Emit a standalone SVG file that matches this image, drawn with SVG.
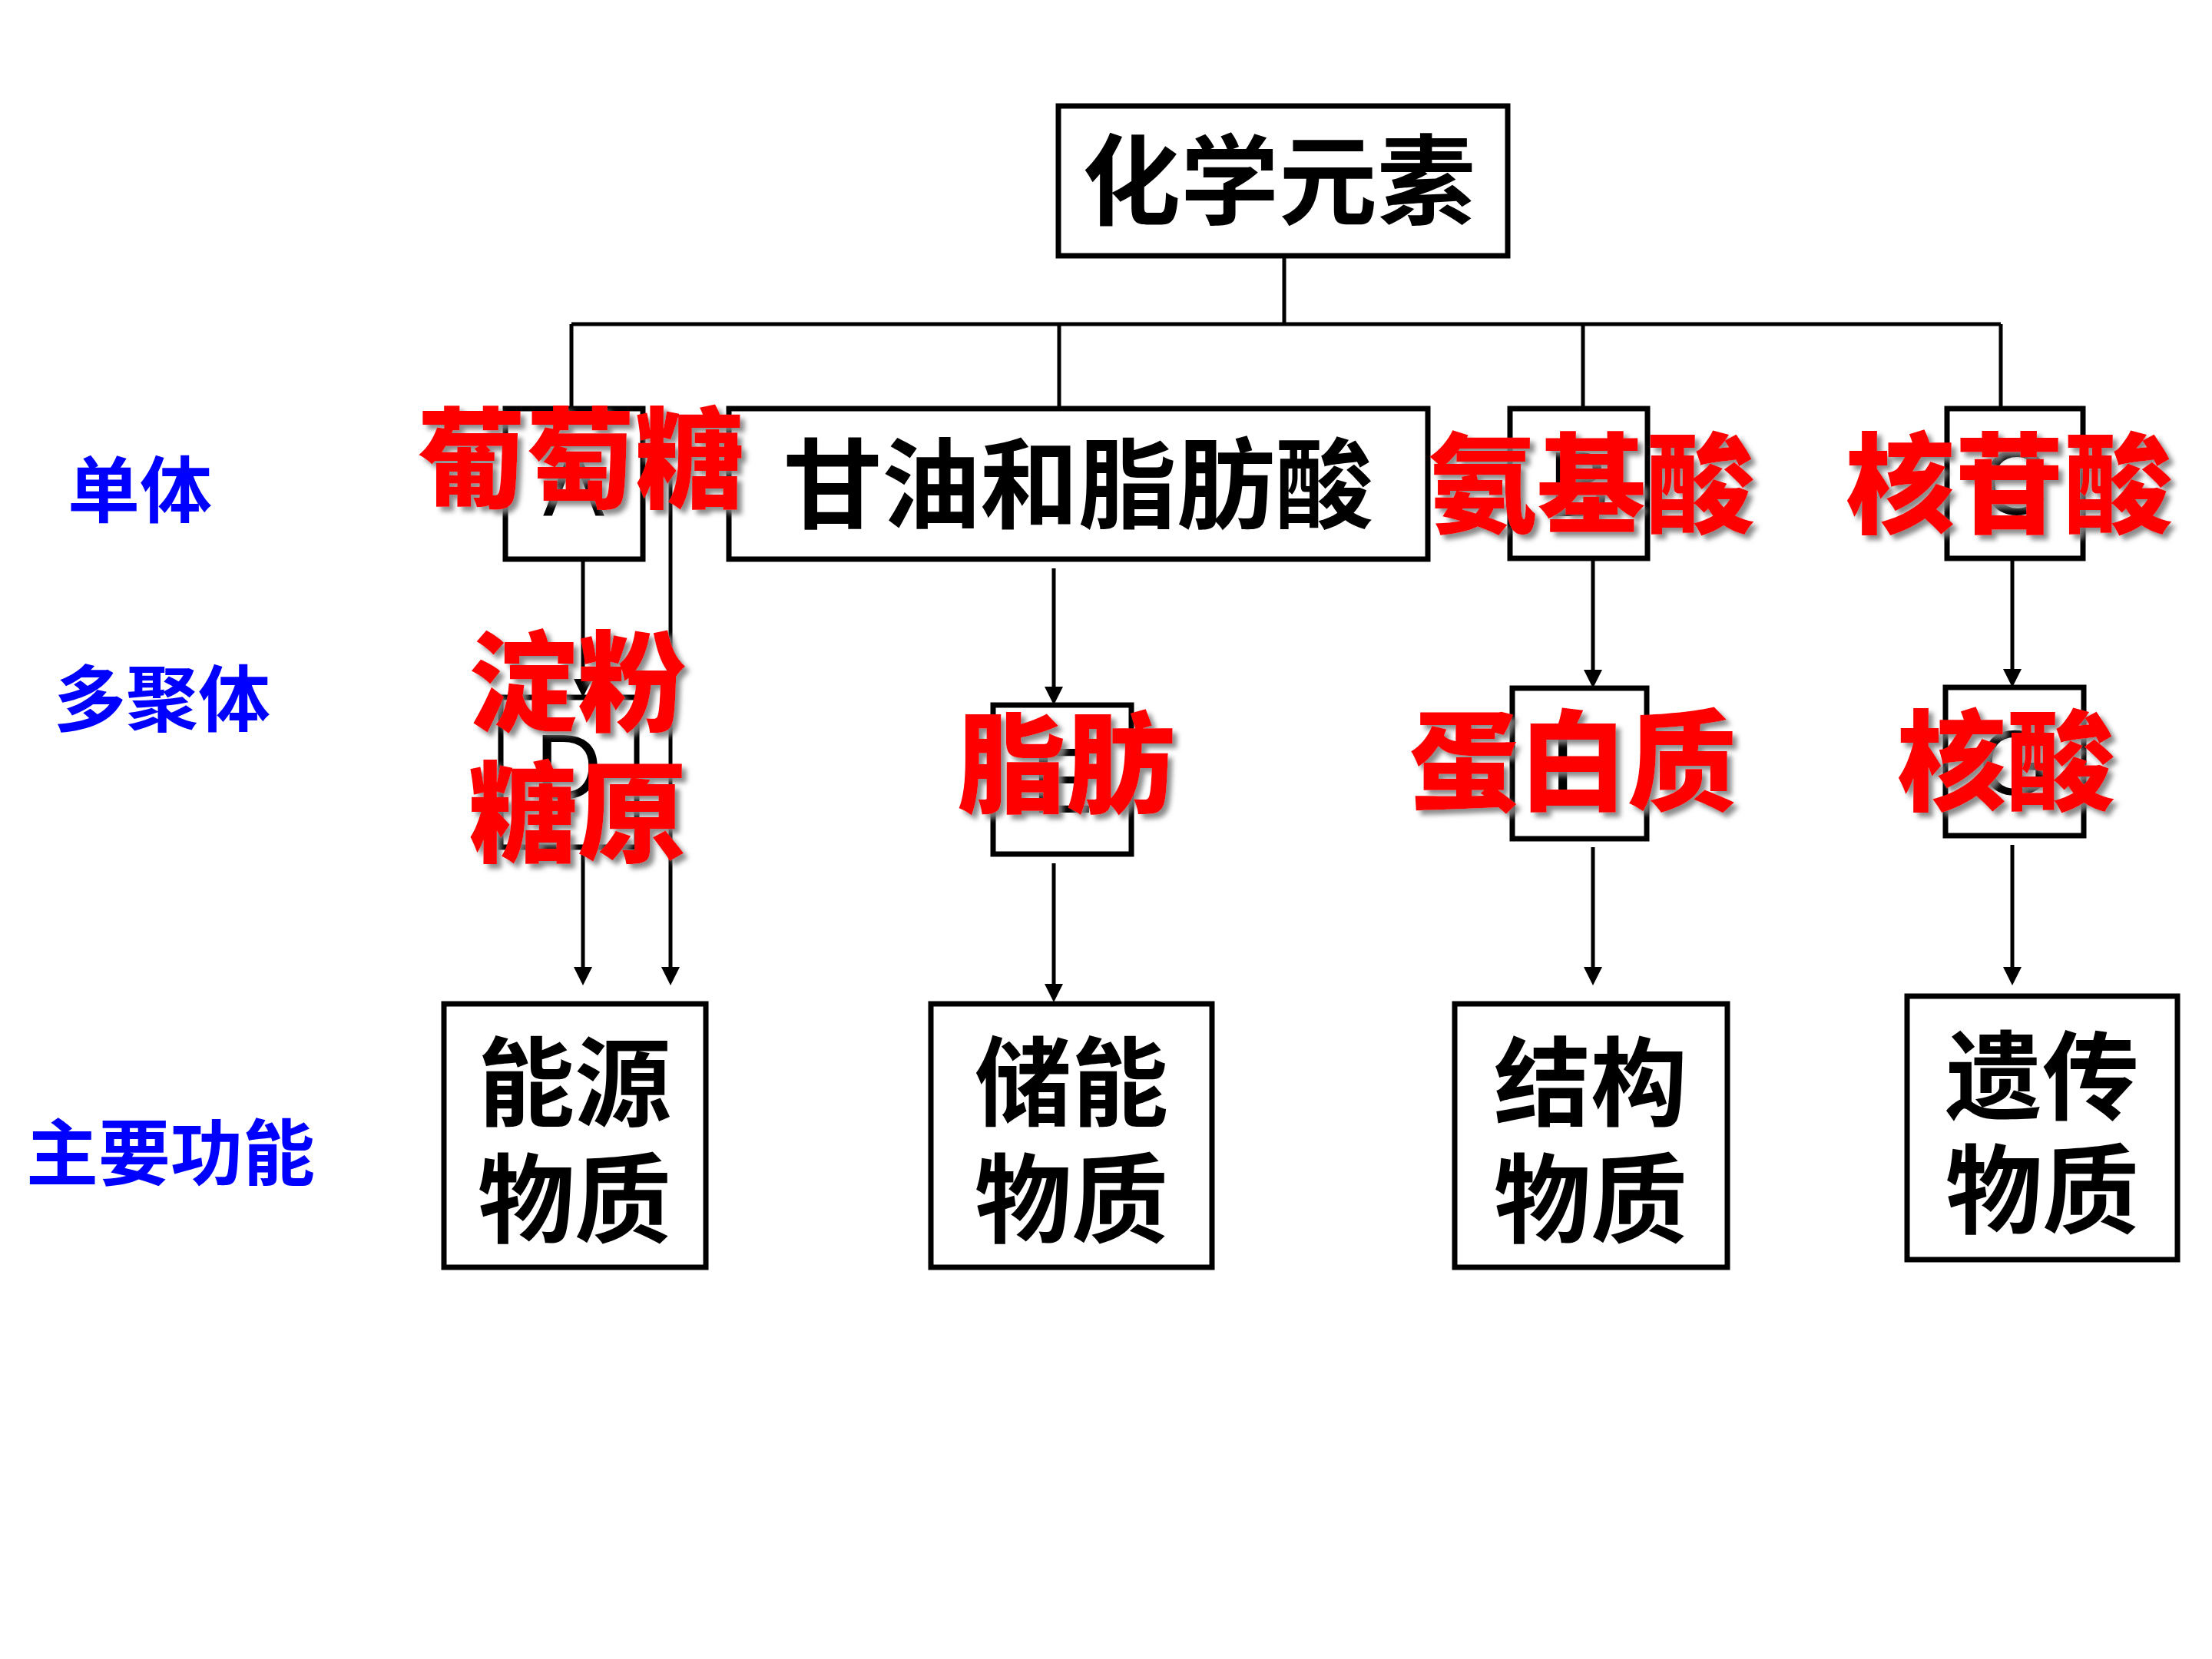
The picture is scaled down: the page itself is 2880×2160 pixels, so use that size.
<svg xmlns="http://www.w3.org/2000/svg" width="2880" height="2160" viewBox="0 0 2880 2160">
<defs>
<style>
.box{fill:#fff;stroke:#000;stroke-width:7}
.ln{fill:none;stroke:#000;stroke-width:5}
.ar{marker-end:url(#ah)}
.bt{font-family:"Noto Sans CJK SC",sans-serif;font-weight:700;fill:#000;text-anchor:middle}
.lt{font-family:"Liberation Sans",Arial,sans-serif;font-size:120px;fill:#000;text-anchor:middle}
.rt{font-family:"Noto Sans CJK SC",sans-serif;font-weight:900;font-size:142px;fill:#ff0000;text-anchor:middle;filter:url(#sh)}
.bl{font-family:"Noto Sans CJK SC",sans-serif;font-weight:700;font-size:94px;fill:#0000ff;text-anchor:middle}
</style>
<marker id="ah" markerUnits="userSpaceOnUse" markerWidth="24" markerHeight="24" viewBox="0 0 24 24" refX="12" refY="12" orient="auto"><path d="M0,0 L24,12 L0,24 z" fill="#000"/></marker>
<filter id="sh" x="-10%" y="-10%" width="130%" height="130%"><feDropShadow dx="6" dy="6" stdDeviation="3" flood-color="#7f7f7f" flood-opacity="0.9"/></filter>
</defs>
<rect width="2880" height="2160" fill="#fff"/>
<g id="connectors">
<path class="ln" d="M1672,333 V422"/>
<path class="ln" d="M744,422 H2605"/>
<path class="ln" d="M744,422 V532"/>
<path class="ln" d="M1379,422 V532"/>
<path class="ln" d="M2061,422 V532"/>
<path class="ln" d="M2605,422 V532"/>
<path class="ln ar" d="M759,728 V896"/>
<path class="ln ar" d="M759,1103 V1271"/>
<path class="ln ar" d="M873,620 V1271"/>
<path class="ln ar" d="M1372,740 V906"/>
<path class="ln ar" d="M1372,1124 V1293"/>
<path class="ln ar" d="M2074,727 V884"/>
<path class="ln ar" d="M2074,1103 V1271"/>
<path class="ln ar" d="M2620,727 V883"/>
<path class="ln ar" d="M2620,1100 V1271"/>
</g>
<g id="n-elements"><rect class="box" x="1378" y="138" width="585" height="195"/><text class="bt" x="1665" y="283" font-size="128">化学元素</text></g>
<g id="n-A"><rect class="box" x="658" y="532" width="179" height="196"/><text class="lt" x="747" y="671">A</text></g>
<g id="n-glycerol"><rect class="box" x="949" y="532" width="910" height="196"/><text class="bt" x="1404" y="678" font-size="128">甘油和脂肪酸</text></g>
<g id="n-B"><rect class="box" x="1966" y="532" width="179" height="195"/><text class="lt" x="2056" y="672">B</text></g>
<g id="n-C"><rect class="box" x="2535" y="532" width="177" height="195"/><text class="lt" x="2623" y="670">C</text></g>
<g id="n-D"><rect class="box" x="652" y="908" width="177" height="195"/><text class="lt" x="740" y="1040">D</text></g>
<g id="n-E"><rect class="box" x="1293" y="918" width="180" height="194"/><text class="lt" x="1383" y="1058">E</text></g>
<g id="n-F"><rect class="box" x="1969" y="896" width="175" height="196"/><text class="lt" x="2056" y="1036">F</text></g>
<g id="n-G"><rect class="box" x="2533" y="895" width="180" height="193"/><text class="lt" x="2623" y="1035">G</text></g>
<g id="n-energy"><rect class="box" x="578" y="1307" width="341" height="343"/><text class="bt" x="748" y="1456" font-size="126">能源</text><text class="bt" x="748" y="1608" font-size="126">物质</text></g>
<g id="n-storage"><rect class="box" x="1212" y="1307" width="366" height="343"/><text class="bt" x="1395" y="1456" font-size="126">储能</text><text class="bt" x="1395" y="1608" font-size="126">物质</text></g>
<g id="n-structure"><rect class="box" x="1894" y="1307" width="355" height="343"/><text class="bt" x="2071" y="1456" font-size="126">结构</text><text class="bt" x="2071" y="1608" font-size="126">物质</text></g>
<g id="n-genetic"><rect class="box" x="2483" y="1297" width="352" height="343"/><text class="bt" x="2659" y="1448" font-size="126">遗传</text><text class="bt" x="2659" y="1596" font-size="126">物质</text></g>
<g id="answers">
<text class="rt" x="756" y="650">葡萄糖</text>
<text class="rt" x="2072" y="683">氨基酸</text>
<text class="rt" x="2616" y="683">核苷酸</text>
<text class="rt" x="752" y="941">淀粉</text>
<text class="rt" x="752" y="1111">糖原</text>
<text class="rt" x="1388" y="1047">脂肪</text>
<text class="rt" x="2048" y="1044">蛋白质</text>
<text class="rt" x="2612" y="1044">核酸</text>
</g>
<g id="row-labels">
<text class="bl" x="182" y="673">单体</text>
<text class="bl" x="211" y="945">多聚体</text>
<text class="bl" x="222" y="1536">主要功能</text>
</g>
</svg>
